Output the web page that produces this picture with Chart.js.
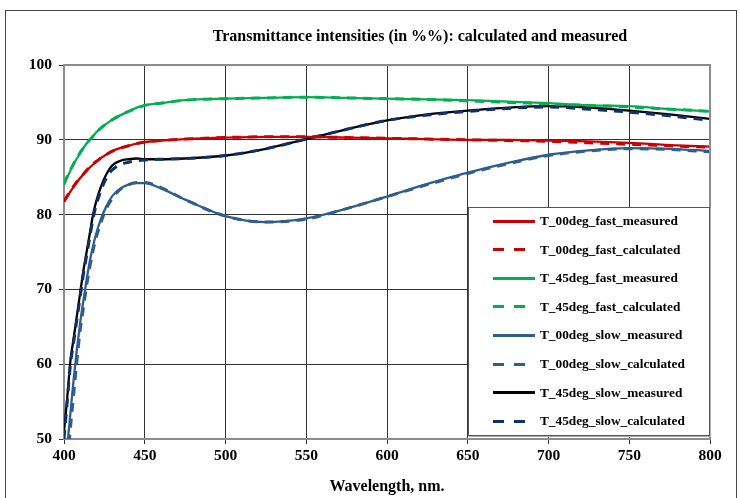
<!DOCTYPE html>
<html>
<head>
<meta charset="utf-8">
<script src="https://cdn.jsdelivr.net/npm/chart.js@4/dist/chart.umd.min.js"></script>
<style>
  body { margin: 0; background: #fff; }
  #wrap { position: relative; width: 740px; height: 498px; overflow: hidden; }
  #frame { position: absolute; left: 5px; top: 10px; width: 732px; height: 500px; border: 1px solid #444; box-sizing: border-box; }
  #title { position: absolute; left: 0; width: 840px; top: 27px; text-align: center;
    font: bold 16px "Liberation Serif", serif; color: #000; }
  #legend { position: absolute; left: 468px; top: 207px; width: 242px; height: 229px; background: #fff;
    border: 1px solid #555; box-sizing: border-box; box-shadow: 1px 1px 0 #aaa; }
  .item { position: absolute; left: 0; height: 16px; display: flex; align-items: center;
    font: bold 13.3px "Liberation Serif", serif; color: #000; white-space: nowrap; }
  .sample { width: 42px; height: 3px; margin-left: 24px; margin-right: 5px; }
</style>
</head>
<body>
<div id="wrap">
  <div id="frame"></div>
  <canvas id="chart" width="740" height="498"></canvas>
  <div id="title">Transmittance intensities (in %%): calculated and measured</div>
  <div id="legend"></div>
</div>
<script>
const wavelength = [400, 402, 404, 406, 408, 410, 412, 414, 416, 418, 420, 423, 426, 430, 435, 440, 445, 450, 460, 475, 500, 525, 550, 575, 600, 625, 650, 675, 700, 725, 750, 775, 800]

const fast00Measured = [81.7, 82.4, 83.1, 83.7, 84.3, 84.9, 85.4, 85.9, 86.3, 86.7, 87.1, 87.6, 88.0, 88.5, 88.9, 89.2, 89.5, 89.7, 89.9, 90.1, 90.3, 90.4, 90.4, 90.3, 90.2, 90.1, 90.0, 90.0, 89.9, 89.8, 89.6, 89.3, 89.1]
const fast00Calc     = [81.8, 82.5, 83.2, 83.8, 84.4, 84.9, 85.4, 85.9, 86.4, 86.8, 87.1, 87.6, 88.0, 88.5, 88.9, 89.2, 89.5, 89.7, 89.9, 90.1, 90.3, 90.4, 90.4, 90.3, 90.2, 90.1, 90.0, 89.9, 89.8, 89.6, 89.4, 89.2, 89.0]
const fast45Measured = [84.0, 85.0, 85.9, 86.8, 87.5, 88.2, 88.9, 89.5, 90.0, 90.5, 91.0, 91.6, 92.1, 92.7, 93.3, 93.8, 94.3, 94.6, 94.9, 95.3, 95.5, 95.6, 95.7, 95.6, 95.5, 95.4, 95.3, 95.1, 94.9, 94.6, 94.5, 94.1, 93.8]
const fast45Calc     = [84.1, 85.1, 86.0, 86.8, 87.6, 88.3, 88.9, 89.5, 90.0, 90.5, 91.0, 91.6, 92.1, 92.7, 93.3, 93.8, 94.2, 94.6, 94.9, 95.3, 95.5, 95.6, 95.7, 95.6, 95.5, 95.4, 95.2, 95.0, 94.8, 94.6, 94.4, 94.1, 93.8]
const slow00Measured = [45.0, 49.0, 53.5, 58.0, 62.0, 65.5, 68.5, 71.3, 73.8, 75.8, 77.5, 79.5, 81.0, 82.5, 83.5, 84.0, 84.2, 84.2, 83.5, 82.0, 79.8, 79.0, 79.5, 80.8, 82.4, 84.1, 85.6, 86.9, 88.0, 88.6, 88.9, 88.8, 88.5]
const slow00Calc     = [43.0, 47.0, 51.5, 56.0, 60.5, 64.5, 67.5, 70.5, 73.0, 75.2, 77.0, 79.0, 80.7, 82.2, 83.4, 84.0, 84.3, 84.3, 83.6, 82.0, 79.8, 79.0, 79.4, 80.8, 82.4, 84.0, 85.5, 86.8, 87.9, 88.5, 88.8, 88.7, 88.4]
const slow45Measured = [51.0, 55.5, 60.5, 63.5, 66.5, 69.5, 72.5, 75.0, 77.5, 80.0, 81.8, 83.8, 85.3, 86.6, 87.2, 87.4, 87.5, 87.4, 87.4, 87.5, 87.9, 88.8, 90.1, 91.4, 92.6, 93.4, 93.9, 94.3, 94.5, 94.3, 93.9, 93.4, 92.8]
const slow45Calc     = [50.0, 55.0, 60.0, 63.0, 66.0, 69.0, 72.0, 74.5, 77.0, 79.5, 81.3, 83.3, 84.8, 86.0, 86.7, 87.0, 87.2, 87.3, 87.4, 87.5, 87.9, 88.8, 90.1, 91.4, 92.6, 93.3, 93.8, 94.2, 94.4, 94.1, 93.7, 93.2, 92.6]

const xTicks = [400, 450, 500, 550, 600, 650, 700, 750, 800]
const yTicks = [50, 60, 70, 80, 90, 100]

const series = [
  { label: 'T_00deg_fast_measured',   values: fast00Measured, color: '#cc0000', dashed: false },
  { label: 'T_00deg_fast_calculated', values: fast00Calc,     color: '#cc0000', dashed: true },
  { label: 'T_45deg_fast_measured',   values: fast45Measured, color: '#00b050', dashed: false },
  { label: 'T_45deg_fast_calculated', values: fast45Calc,     color: '#00b050', dashed: true },
  { label: 'T_00deg_slow_measured',   values: slow00Measured, color: '#2f5e8c', dashed: false },
  { label: 'T_00deg_slow_calculated', values: slow00Calc,     color: '#2f5e8c', dashed: true },
  { label: 'T_45deg_slow_measured',   values: slow45Measured, color: '#000000', dashed: false },
  { label: 'T_45deg_slow_calculated', values: slow45Calc,     color: '#10306a', dashed: true }
]

const serif = '"Liberation Serif", "Times New Roman", serif'

// contour gris du cadre du graphique
const plotFrame = {
  id: 'plotFrame',
  afterDraw(chart) {
    const { ctx, chartArea: a } = chart
    ctx.save()
    ctx.strokeStyle = '#8c8c8c'
    ctx.lineWidth = 2
    ctx.beginPath()
    ctx.moveTo(a.left, a.top)
    ctx.lineTo(a.right, a.top)
    ctx.lineTo(a.right, a.bottom)
    ctx.stroke()
    ctx.restore()
  }
}

new Chart(document.getElementById('chart'), {
  type: 'line',
  data: {
    datasets: series.map(s => ({
      label: s.label,
      data: wavelength.map((w, i) => ({ x: w, y: s.values[i] })),
      borderColor: s.color,
      borderWidth: s.dashed ? 3 : 2.3,
      borderDash: s.dashed ? [9, 7] : [],
      pointRadius: 0,
      cubicInterpolationMode: 'monotone',
      order: s.dashed ? 0 : 1
    }))
  },
  options: {
    responsive: false,
    animation: false,
    layout: { padding: { left: 0, right: 30, top: 65, bottom: 0 } },
    plugins: { legend: { display: false }, tooltip: { enabled: false } },
    scales: {
      x: {
        type: 'linear', min: 400, max: 800,
        afterBuildTicks: sc => { sc.ticks = xTicks.map(v => ({ value: v })) },
        afterFit: sc => { sc.height = 59 },
        grid: { color: '#333', lineWidth: 1, tickLength: 5 },
        border: { color: '#8c8c8c', width: 2 },
        ticks: { color: '#000', padding: 3, font: { family: serif, size: 15.5, weight: 'bold' } },
        title: { display: true, text: 'Wavelength, nm.', color: '#000', padding: { top: 0, bottom: 2 },
          font: { family: serif, size: 16, weight: 'bold' } }
      },
      y: {
        min: 50, max: 100,
        afterBuildTicks: sc => { sc.ticks = yTicks.map(v => ({ value: v })) },
        afterFit: sc => { sc.width = 64 },
        grid: { color: '#333', lineWidth: 1, tickLength: 5 },
        border: { color: '#8c8c8c', width: 2 },
        ticks: { color: '#000', padding: 7, font: { family: serif, size: 15.5, weight: 'bold' } }
      }
    }
  },
  plugins: [plotFrame]
})

// légende HTML dans le graphique
const legend = document.getElementById('legend')
series.forEach((s, i) => {
  const row = document.createElement('div')
  row.className = 'item'
  row.style.top = (5 + i * 28.6) + 'px'
  const bg = s.dashed
    ? `repeating-linear-gradient(90deg, ${s.color} 0 11px, transparent 11px 21px)`
    : s.color
  row.innerHTML = `<div class="sample" style="background:${bg}"></div><span>${s.label}</span>`
  legend.appendChild(row)
})
</script>
</body>
</html>
